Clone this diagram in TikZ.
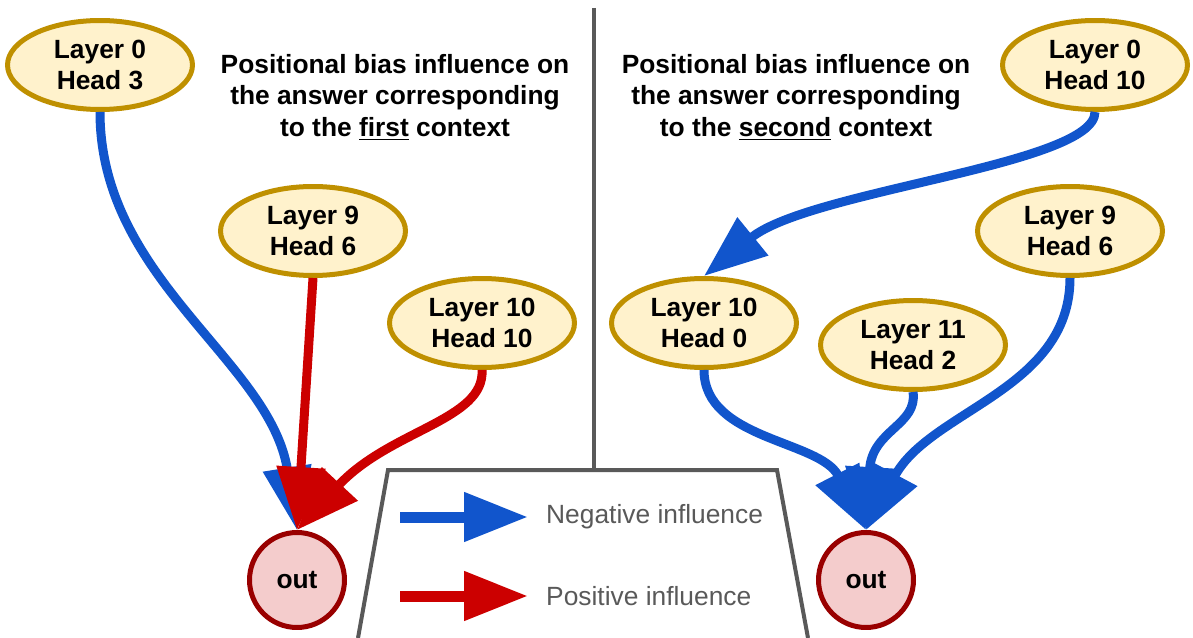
\documentclass[tikz,border=0pt]{standalone}
\usepackage{fontspec}
\setmainfont{Liberation Sans}
\usetikzlibrary{arrows.meta,shapes.geometric}
\definecolor{eblue}{HTML}{1155CC}
\definecolor{ered}{HTML}{CC0000}
\definecolor{gold}{HTML}{BF9000}
\definecolor{cream}{HTML}{FFF2CC}
\definecolor{pinkf}{HTML}{F4CCCC}
\definecolor{darkred}{HTML}{990000}
\definecolor{sepgray}{HTML}{595959}
\tikzset{
  head/.style={ellipse, draw=gold, fill=cream, line width=0.1cm, minimum width=3.7cm, minimum height=1.78cm, inner sep=0pt, align=center, font=\fontsize{15}{18}\selectfont\bfseries},
  outnode/.style={circle, draw=darkred, fill=pinkf, line width=0.1cm, minimum size=1.9cm, inner sep=0pt, font=\fontsize{15}{18}\selectfont\bfseries},
  negedge/.style={draw=eblue, line width=0.18cm, -{Triangle[length=1.26cm,width=0.94cm]}},
  posedge/.style={draw=ered, line width=0.18cm, -{Triangle[length=1.26cm,width=0.94cm]}},
  legneg/.style={draw=eblue, line width=0.22cm, -{Triangle[length=1.28cm,width=0.94cm]}},
  legpos/.style={draw=ered, line width=0.22cm, -{Triangle[length=1.28cm,width=0.94cm]}},
  title/.style={align=center, font=\fontsize{15}{18}\selectfont\bfseries},
  legtext/.style={anchor=west, text=sepgray, font=\fontsize{15}{18}\selectfont},
  sep/.style={draw=sepgray, line width=0.08cm},
}
\begin{document}
\begin{tikzpicture}[x=0.02cm, y=-0.02cm]
\useasboundingbox (0,0) rectangle (1193,638);
% separator and legend frame
\coordinate (s0) at (594,8);
\coordinate (s1) at (594,470);
\coordinate (t0) at (358,638);
\coordinate (t1) at (388,470);
\coordinate (t2) at (777,470);
\coordinate (t3) at (808,638);
\draw[sep] (s0) -- (s1);
\draw[sep, line join=miter] (t0) -- (t1) -- (t2) -- (t3);
% titles
\node[title] (titleL) at (395,97) {Positional bias influence on\\the answer corresponding\\to the \underline{first} context};
\node[title] (titleR) at (796,97) {Positional bias influence on\\the answer corresponding\\to the \underline{second} context};
% nodes
\node[head] (l0h3) at (100,65) {Layer 0\\Head 3};
\node[head] (l9h6a) at (313,231) {Layer 9\\Head 6};
\node[head] (l10h10) at (482,323) {Layer 10\\Head 10};
\node[outnode] (outL) at (297,580) {out};
\node[head] (l0h10) at (1095,65) {Layer 0\\Head 10};
\node[head] (l9h6b) at (1070,231) {Layer 9\\Head 6};
\node[head] (l10h0) at (704,323) {Layer 10\\Head 0};
\node[head] (l11h2) at (913,345) {Layer 11\\Head 2};
\node[outnode] (outR) at (866,580) {out};
% left edges
\draw[negedge] (l0h3.south) .. controls (100,280) and (270,360) .. (outL.north);
\draw[posedge] (l9h6a.south) -- (outL.north);
\draw[posedge] (l10h10.south) .. controls (485,420) and (390,430) .. (outL.north);
% right edges
\draw[negedge] (l0h10.south) .. controls (1095,165) and (810,190) .. (l10h0.north);
\draw[negedge] (l10h0.south) .. controls (704,440) and (820,440) .. (outR.north);
\draw[negedge] (l11h2.south) .. controls (918,425) and (872,430) .. (outR.north);
\draw[negedge] (l9h6b.south) .. controls (1070,390) and (930,410) .. (outR.north);
% legend
\coordinate (nb0) at (400,517);
\coordinate (nb1) at (528,517);
\coordinate (pb0) at (400,596);
\coordinate (pb1) at (528,596);
\draw[legneg] (nb0) -- (nb1);
\draw[legpos] (pb0) -- (pb1);
\node[legtext] (negt) at (540,517) {Negative influence};
\node[legtext] (post) at (540,596) {Positive influence};
\end{tikzpicture}
\end{document}
